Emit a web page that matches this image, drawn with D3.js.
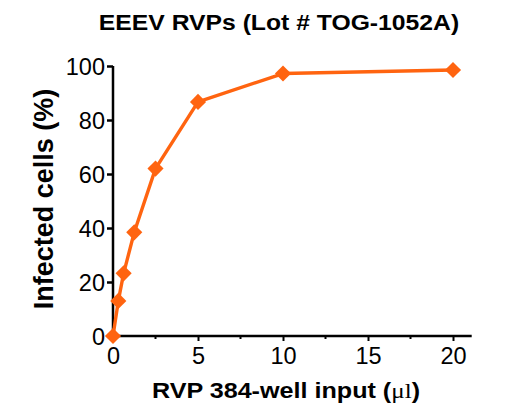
<!DOCTYPE html>
<html>
<head>
<meta charset="utf-8">
<script src="https://cdn.jsdelivr.net/npm/d3@7"></script>
<style>
  body { margin: 0; background: #fff; }
  text { font-family: "Liberation Sans", Arial, sans-serif; fill: #000; }
</style>
</head>
<body>
<div id="chart"></div>
<script>
// data
const inputUl = [0, 0.3125, 0.625, 1.25, 2.5, 5, 10, 20];
const infectedPct = [0, 13, 23.2, 38.4, 62, 86.7, 97.2, 98.5];
const xTicks = [0, 5, 10, 15, 20];
const xMinorTicks = [2.5, 7.5, 12.5, 17.5];
const yTicks = [0, 20, 40, 60, 80, 100];

const W = 524, H = 417;
const orange = "#FF6410";

const svg = d3.select("#chart").append("svg")
    .attr("width", W)
    .attr("height", H);

const x = d3.scaleLinear().domain([0, 20]).range([113, 453]);
const y = d3.scaleLinear().domain([0, 100]).range([336, 66]);

// Title
svg.append("text")
    .attr("transform", "translate(279,30) scale(1.15,1)")
    .attr("text-anchor", "middle")
    .attr("font-weight", "bold")
    .attr("font-size", 21.5)
    .text("EEEV RVPs (Lot # TOG-1052A)");

// y axis
const yAxis = svg.append("g")
    .attr("transform", `translate(${x(0)},0)`)
    .call(d3.axisLeft(y).tickValues(yTicks).tickSize(6).tickPadding(2).tickSizeOuter(0));
yAxis.select(".domain").attr("stroke-width", 2.5).attr("d", `M0,${y(0) + 1.2}V${y(100)}`);
yAxis.selectAll(".tick line").attr("stroke-width", 2.5);
yAxis.selectAll(".tick text")
    .attr("font-size", 23.5)
    .attr("font-family", "Liberation Sans, Arial, sans-serif")
    .attr("dy", "0.36em");

// x axis
const xAxis = svg.append("g")
    .attr("transform", `translate(0,${y(0)})`)
    .call(d3.axisBottom(x).tickValues(xTicks).tickSize(5).tickPadding(6).tickSizeOuter(0));
xAxis.select(".domain").attr("stroke-width", 2.5).attr("d", `M${x(0) - 1.2},0H${x(21.1)}`);
xAxis.selectAll(".tick line").attr("stroke-width", 2);
xAxis.selectAll(".tick text")
    .attr("font-size", 23.5)
    .attr("font-family", "Liberation Sans, Arial, sans-serif")
    .attr("dy", "0.72em");

// minor ticks
xAxis.selectAll(".minor")
    .data(xMinorTicks)
    .enter()
    .append("line")
    .attr("class", "minor")
    .attr("x1", d => x(d))
    .attr("x2", d => x(d))
    .attr("y1", 0)
    .attr("y2", 3)
    .attr("stroke", "#000")
    .attr("stroke-width", 2);

// axis titles
const xLab = svg.append("text")
    .attr("transform", `translate(${x(10) + 3},398) scale(1.17,1)`)
    .attr("text-anchor", "middle")
    .attr("font-weight", "bold")
    .attr("font-size", 21.5);
xLab.append("tspan").text("RVP 384-well input (");
xLab.append("tspan").attr("font-weight", "normal").attr("font-family", "Liberation Serif, serif").text("\u03BCl");
xLab.append("tspan").text(")");

svg.append("text")
    .attr("transform", `translate(53,${(y(0) + y(100)) / 2 - 2}) rotate(-90)`)
    .attr("text-anchor", "middle")
    .attr("font-weight", "bold")
    .attr("font-size", 27)
    .text("Infected cells (%)");

// line + markers
const pts = inputUl.map((v, i) => [v, infectedPct[i]]);

svg.append("path")
    .datum(pts)
    .attr("fill", "none")
    .attr("stroke", orange)
    .attr("stroke-width", 3.4)
    .attr("stroke-linejoin", "round")
    .attr("d", d3.line().x(d => x(d[0])).y(d => y(d[1])));

svg.selectAll(".pt")
    .data(pts)
    .enter()
    .append("path")
    .attr("class", "pt")
    .attr("transform", d => `translate(${x(d[0])},${y(d[1])}) rotate(45)`)
    .attr("d", d3.symbol(d3.symbolSquare, 130))
    .attr("fill", orange);
</script>
</body>
</html>
